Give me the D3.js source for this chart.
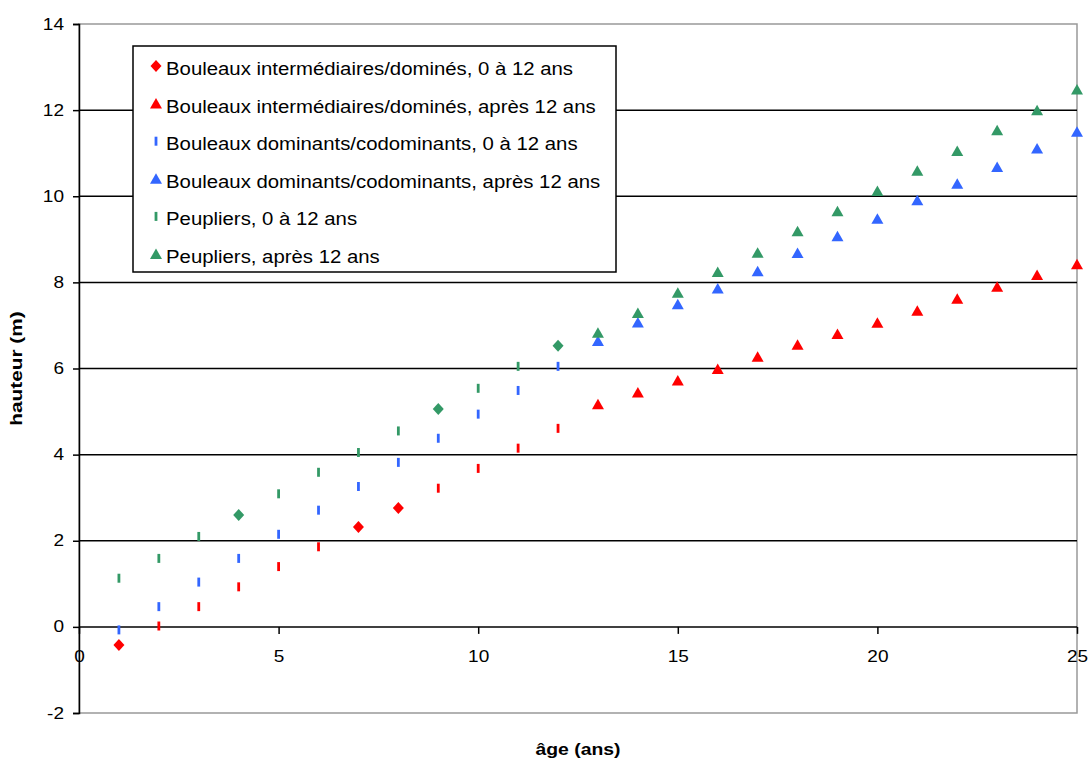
<!DOCTYPE html>
<html>
<head>
<meta charset="utf-8">
<script src="https://cdn.jsdelivr.net/npm/d3@7"></script>
<style>
  body { margin: 0; background: #fff; }
  text { font-family: "Liberation Sans", Arial, sans-serif; }
</style>
</head>
<body>
<svg id="chart" width="1089" height="760"></svg>
<script>
// ages
var agesYoung = [1,2,3,4,5,6,7,8,9,10,11,12];
var agesOld = [13,14,15,16,17,18,19,20,21,22,23,24,25];

// heights (m)
var interYoung = [-0.42,0.02,0.47,0.93,1.40,1.86,2.32,2.76,3.22,3.68,4.15,4.61];
var interOld = [5.17,5.44,5.72,5.99,6.27,6.55,6.80,7.06,7.34,7.62,7.90,8.17,8.42];
var domYoung = [-0.07,0.47,1.04,1.59,2.15,2.71,3.26,3.82,4.38,4.94,5.49,6.05];
var domOld = [6.64,7.07,7.49,7.86,8.26,8.68,9.07,9.48,9.91,10.29,10.68,11.11,11.50];
var peupYoung = [1.13,1.59,2.10,2.60,3.09,3.59,4.05,4.55,5.06,5.54,6.05,6.53];
var peupOld = [6.83,7.29,7.76,8.24,8.69,9.19,9.65,10.12,10.59,11.05,11.53,12.00,12.48];

// points drawn as diamonds instead of dashes
var interDiamonds = [1,7,8];
var peupDiamonds = [4,9,12];

var seriesNames = [
  "Bouleaux intermédiaires/dominés, 0 à 12 ans",
  "Bouleaux intermédiaires/dominés, après 12 ans",
  "Bouleaux dominants/codominants, 0 à 12 ans",
  "Bouleaux dominants/codominants, après 12 ans",
  "Peupliers, 0 à 12 ans",
  "Peupliers, après 12 ans"
];

var xTicks = [0,5,10,15,20,25];
var yTicks = [-2,0,2,4,6,8,10,12,14];

var red = "#ff0000", blue = "#3366ff", green = "#339966";

var series = [
  {name: seriesNames[0], x: agesYoung, y: interYoung, color: red, shape: "dash", diamonds: interDiamonds, legend: "diamond"},
  {name: seriesNames[1], x: agesOld, y: interOld, color: red, shape: "triangle", diamonds: [], legend: "triangle"},
  {name: seriesNames[2], x: agesYoung, y: domYoung, color: blue, shape: "dash", diamonds: [], legend: "dash"},
  {name: seriesNames[3], x: agesOld, y: domOld, color: blue, shape: "triangle", diamonds: [], legend: "triangle"},
  {name: seriesNames[4], x: agesYoung, y: peupYoung, color: green, shape: "dash", diamonds: peupDiamonds, legend: "dash"},
  {name: seriesNames[5], x: agesOld, y: peupOld, color: green, shape: "triangle", diamonds: [], legend: "triangle"}
];

// plot area (the original picture is a bit stretched sideways, hence the text scaling)
var plotLeft = 79, plotRight = 1077, plotTop = 24, plotBottom = 713;
var stretch = 1.12;

var svg = d3.select("#chart");

var xScale = d3.scaleLinear().domain([0, 25]).range([plotLeft, plotRight]);
var yScale = d3.scaleLinear().domain([-2, 14]).range([plotBottom, plotTop]);

// plot frame
svg.append("rect")
  .attr("x", plotLeft).attr("y", plotTop)
  .attr("width", plotRight - plotLeft).attr("height", plotBottom - plotTop)
  .style("fill", "none")
  .style("stroke", "#999")
  .style("stroke-width", 1.5);

// gridlines
svg.selectAll(".grid").data(yTicks.filter(function(d){ return d > -2 && d < 14; })).enter()
  .append("line")
    .attr("class", "grid")
    .attr("x1", plotLeft).attr("x2", plotRight)
    .attr("y1", function(d){ return yScale(d); })
    .attr("y2", function(d){ return yScale(d); })
    .style("stroke", "#000")
    .style("stroke-width", 1.5);

// y axis
var yAxis = d3.axisLeft(yScale).tickValues(yTicks).tickSize(6)
  .tickFormat(function(d){ return String(d); });
var gy = svg.append("g").attr("transform", "translate(" + plotLeft + ",0)").call(yAxis);
gy.select(".domain").style("stroke", "#000").style("stroke-width", 1.5);
gy.selectAll(".tick line").style("stroke", "#000").style("stroke-width", 1.5);
gy.selectAll(".tick text")
  .attr("font-family", "Liberation Sans, Arial, sans-serif")
  .attr("font-size", "17px")
  .attr("x", -15 / stretch)
  .attr("dy", "0.3em")
  .attr("transform", "scale(" + stretch + ",1)")
  .style("fill", "#000");

// x axis at y = 0
var xAxis = d3.axisBottom(xScale).tickValues(xTicks).tickSize(7)
  .tickFormat(function(d){ return String(d); });
var gx = svg.append("g").attr("transform", "translate(0," + yScale(0) + ")").call(xAxis);
gx.select(".domain").remove();
gx.selectAll(".tick line").style("stroke", "#000").style("stroke-width", 1.5);
gx.selectAll(".tick text")
  .attr("font-family", "Liberation Sans, Arial, sans-serif")
  .attr("font-size", "17px")
  .attr("y", 35)
  .attr("dy", 0)
  .attr("transform", "scale(" + stretch + ",1)")
  .style("fill", "#000");

// axis titles
svg.append("text")
  .attr("transform", "translate(" + ((plotLeft + plotRight) / 2) + ",755) scale(1.14,1)")
  .attr("text-anchor", "middle")
  .attr("font-size", "17px")
  .attr("font-weight", "bold")
  .text("âge (ans)");

svg.append("text")
  .attr("transform", "translate(22," + ((plotTop + plotBottom) / 2) + ") rotate(-90) scale(1.3,1)")
  .attr("text-anchor", "middle")
  .attr("font-size", "16px")
  .attr("font-weight", "bold")
  .text("hauteur (m)");

// marker paths
function markerPath(shape) {
  if (shape == "triangle") return "M0,-5.5L6,5L-6,5Z";
  if (shape == "diamond") return "M0,-6L5.5,0L0,6L-5.5,0Z";
  return "M-1.4,-4.5L1.4,-4.5L1.4,4.5L-1.4,4.5Z";
}

series.forEach(function(s, si) {
  var pts = s.x.map(function(a, i) {
    return {x: a, y: s.y[i], shape: s.diamonds.indexOf(a) >= 0 ? "diamond" : s.shape};
  });
  svg.selectAll(".pt" + si).data(pts).enter()
    .append("path")
      .attr("class", "pt" + si)
      .attr("transform", function(d){ return "translate(" + xScale(d.x) + "," + yScale(d.y) + ")"; })
      .attr("d", function(d){ return markerPath(d.shape); })
      .style("fill", s.color);
});

// legend
var lx = 133, ly = 46, lw = 483, lh = 226;
var legend = svg.append("g");
legend.append("rect")
  .attr("x", lx).attr("y", ly)
  .attr("width", lw).attr("height", lh)
  .style("fill", "#fff")
  .style("stroke", "#000")
  .style("stroke-width", 1.5);

var items = legend.selectAll(".legItem").data(series).enter()
  .append("g")
    .attr("class", "legItem")
    .attr("transform", function(d, i){ return "translate(0," + (68 + 37.6 * i) + ")"; });

items.append("path")
  .attr("transform", "translate(156,-2)")
  .attr("d", function(d){ return markerPath(d.legend); })
  .style("fill", function(d){ return d.color; });

items.append("text")
  .attr("transform", "translate(166,7) scale(1.1,1)")
  .attr("font-size", "18.5px")
  .style("fill", "#000")
  .text(function(d){ return d.name; });
</script>
</body>
</html>
